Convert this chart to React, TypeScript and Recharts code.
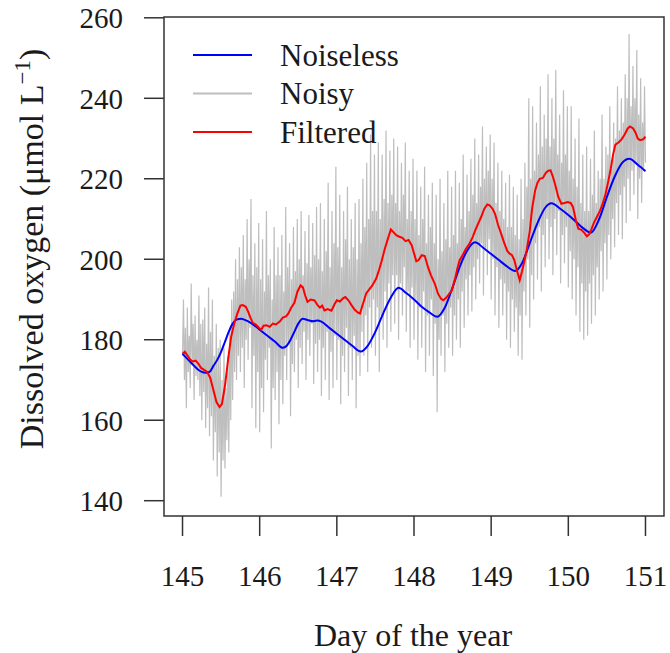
import { LineChart, Line, XAxis, YAxis, ReferenceArea, Legend, Label } from 'recharts';

const dayTicks = [145, 146, 147, 148, 149, 150, 151];
const oxygenTicks = [140, 160, 180, 200, 220, 240, 260];
const dayRange = [144.76, 151.24];
const oxygenRange = [136.2, 260.2];

// raw sensor readings, one every 0.0125 day starting at day 145
const noisyStart = 145;
const noisyStep = 0.0125;
const noisyValues = [
  176, 190, 170, 183, 163, 188, 172, 181, 168, 194, 174, 184, 165, 186, 171, 180, 170, 191, 166, 184,
  160, 185, 167, 188, 158, 179, 163, 193, 156, 182, 161, 190, 150, 176, 157, 184, 146, 178, 152, 180,
  141, 170, 150, 178, 148, 168, 155, 176, 152, 183, 160, 190, 165, 192, 172, 200, 170, 195, 176, 203,
  172, 198, 178, 206, 168, 195, 180, 210, 175, 200, 183, 215, 163, 196, 176, 204, 158, 198, 172, 209,
  157, 195, 168, 205, 162, 192, 175, 212, 170, 196, 178, 200, 153, 190, 168, 208, 165, 196, 172, 203,
  159, 196, 170, 206, 164, 192, 176, 213, 170, 198, 179, 204, 161, 195, 174, 208, 172, 197, 180, 210,
  168, 200, 178, 212, 174, 196, 182, 207, 170, 199, 180, 211, 176, 198, 184, 209, 169, 201, 179, 213,
  172, 200, 180, 214, 166, 197, 178, 210, 170, 202, 182, 219, 165, 198, 177, 212, 168, 204, 181, 223,
  170, 203, 180, 216, 164, 198, 176, 212, 172, 205, 183, 218, 166, 200, 178, 210, 170, 203, 181, 214,
  163, 200, 176, 215, 171, 204, 182, 220, 176, 208, 186, 224, 172, 210, 188, 231, 178, 212, 190, 226,
  176, 212, 188, 229, 172, 210, 186, 226, 180, 215, 192, 232, 178, 214, 194, 227, 182, 216, 196, 230,
  184, 214, 196, 228, 180, 212, 194, 224, 186, 216, 198, 229, 182, 210, 192, 222, 178, 212, 193, 225,
  180, 210, 190, 222, 175, 206, 188, 218, 178, 210, 192, 223, 172, 204, 186, 216, 176, 208, 190, 219,
  171, 204, 184, 216, 162, 200, 180, 220, 176, 202, 186, 214, 172, 205, 184, 222, 178, 203, 188, 218,
  176, 206, 186, 222, 180, 204, 190, 219, 178, 210, 192, 226, 183, 208, 195, 221, 186, 212, 196, 225,
  187, 216, 198, 230, 190, 214, 200, 226, 194, 218, 204, 233, 191, 220, 202, 228, 196, 222, 205, 231,
  190, 220, 200, 229, 186, 214, 198, 224, 183, 212, 195, 222, 186, 210, 194, 219, 180, 208, 192, 221,
  178, 208, 190, 218, 182, 206, 188, 216, 176, 205, 186, 220, 175, 210, 192, 224, 186, 218, 200, 240,
  183, 220, 196, 238, 190, 222, 204, 234, 195, 226, 208, 243, 192, 228, 206, 236, 198, 230, 210, 246,
  200, 228, 208, 240, 196, 230, 210, 247, 201, 226, 212, 236, 194, 224, 206, 242, 199, 226, 208, 238,
  193, 222, 202, 238, 190, 220, 200, 230, 186, 218, 198, 235, 182, 214, 194, 226, 180, 212, 192, 228,
  181, 212, 194, 225, 184, 216, 196, 232, 186, 214, 198, 222, 190, 220, 202, 236, 192, 220, 204, 228,
  195, 226, 206, 238, 200, 224, 210, 234, 203, 230, 214, 243, 206, 232, 216, 240, 205, 234, 218, 246,
  209, 240, 220, 256, 212, 238, 222, 248, 216, 240, 224, 252, 210, 236, 220, 245, 214, 234, 222, 243,
  224,
];

// [day, oxygen]
const noiseless: [number, number][] = [
  [145.0, 176.5], [145.05, 175.5], [145.1, 174.5], [145.15, 173.5], [145.2, 172.6],
  [145.25, 172.0], [145.3, 171.8], [145.35, 172.0], [145.4, 173.5], [145.45, 175.0],
  [145.5, 177.0], [145.55, 179.5], [145.6, 182.0], [145.65, 184.0], [145.7, 185.0],
  [145.76, 185.2], [145.8, 185.0], [145.9, 184.0], [146.0, 182.5], [146.1, 181.0],
  [146.2, 179.5], [146.3, 178.0], [146.35, 178.5], [146.4, 180.0], [146.45, 182.0],
  [146.5, 184.0], [146.56, 185.2], [146.62, 184.9], [146.7, 184.6], [146.75, 184.8],
  [146.8, 184.5], [146.9, 183.0], [147.0, 181.5], [147.1, 180.0], [147.2, 178.5],
  [147.31, 177.1], [147.4, 178.5], [147.5, 182.0], [147.6, 186.5], [147.7, 190.5],
  [147.8, 192.9], [147.9, 191.6], [148.0, 190.0], [148.1, 188.2], [148.2, 186.8],
  [148.3, 185.7], [148.4, 188.0], [148.5, 193.0], [148.6, 198.5], [148.7, 202.5],
  [148.79, 204.2], [148.9, 202.8], [149.0, 201.3], [149.1, 199.8], [149.2, 198.3],
  [149.31, 197.1], [149.4, 199.0], [149.5, 204.0], [149.6, 209.0], [149.7, 212.8],
  [149.78, 213.9], [149.9, 212.5], [150.0, 211.0], [150.1, 209.3], [150.2, 207.6],
  [150.29, 206.6], [150.4, 210.0], [150.5, 215.5], [150.6, 220.5], [150.7, 224.0],
  [150.79, 225.0], [150.9, 223.5], [151.0, 221.9],
];

// [day, oxygen]
const filtered: [number, number][] = [
  [145.0, 176.5], [145.03, 177.0], [145.06, 176.2], [145.09, 175.3], [145.13, 174.6],
  [145.17, 174.8], [145.2, 174.2], [145.24, 173.0], [145.28, 172.5], [145.32, 172.0],
  [145.36, 170.5], [145.4, 167.5], [145.44, 164.5], [145.48, 163.3], [145.51, 164.0],
  [145.55, 168.5], [145.59, 175.0], [145.63, 180.7], [145.67, 184.0], [145.71, 186.5],
  [145.75, 188.5], [145.78, 188.6], [145.82, 188.2], [145.85, 187.0], [145.88, 185.5],
  [145.91, 184.2], [145.95, 183.8], [145.99, 183.0], [146.02, 182.5], [146.05, 183.5],
  [146.09, 183.6], [146.13, 183.2], [146.17, 184.0], [146.21, 183.8], [146.26, 184.5],
  [146.3, 185.5], [146.34, 185.8], [146.37, 186.5], [146.41, 188.0], [146.45, 189.2],
  [146.49, 192.0], [146.53, 193.5], [146.56, 193.0], [146.59, 191.0], [146.62, 189.4],
  [146.66, 190.0], [146.71, 189.8], [146.75, 188.6], [146.78, 188.0], [146.81, 188.5],
  [146.84, 187.3], [146.88, 187.6], [146.93, 187.2], [146.97, 188.8], [147.0, 189.8],
  [147.04, 189.5], [147.08, 190.3], [147.11, 190.6], [147.15, 189.8], [147.19, 188.6],
  [147.23, 187.5], [147.27, 186.8], [147.3, 186.5], [147.34, 189.0], [147.38, 191.5],
  [147.42, 192.5], [147.46, 193.5], [147.51, 195.2], [147.55, 197.5], [147.58, 199.5],
  [147.62, 202.5], [147.66, 205.0], [147.7, 207.4], [147.73, 206.8], [147.77, 206.0],
  [147.81, 205.6], [147.85, 205.3], [147.89, 204.5], [147.93, 204.8], [147.97, 203.5],
  [148.0, 201.5], [148.03, 199.5], [148.06, 199.8], [148.1, 201.0], [148.14, 200.8],
  [148.18, 198.1], [148.22, 196.0], [148.27, 193.9], [148.31, 191.5], [148.35, 190.2],
  [148.38, 189.8], [148.42, 190.5], [148.46, 191.5], [148.49, 192.3], [148.53, 195.0],
  [148.56, 197.5], [148.59, 199.7], [148.63, 201.0], [148.67, 202.5], [148.72, 203.9],
  [148.76, 205.5], [148.8, 207.5], [148.83, 208.8], [148.87, 210.5], [148.91, 212.5],
  [148.95, 213.6], [148.98, 213.4], [149.02, 212.5], [149.05, 211.3], [149.09, 208.5],
  [149.13, 206.3], [149.17, 204.0], [149.21, 202.0], [149.24, 201.4], [149.27, 201.0],
  [149.3, 199.8], [149.33, 197.5], [149.37, 194.8], [149.4, 197.0], [149.43, 199.5],
  [149.46, 202.2], [149.5, 207.0], [149.53, 212.5], [149.57, 217.1], [149.6, 219.0],
  [149.63, 220.0], [149.67, 220.2], [149.71, 221.5], [149.74, 222.0], [149.77, 222.1],
  [149.8, 220.5], [149.83, 218.5], [149.87, 215.5], [149.91, 213.8], [149.95, 214.0],
  [149.99, 214.2], [150.03, 214.0], [150.06, 213.0], [150.1, 209.5], [150.13, 207.6],
  [150.17, 207.3], [150.21, 206.5], [150.24, 205.7], [150.27, 206.2], [150.3, 207.5],
  [150.33, 209.0], [150.37, 210.5], [150.41, 212.0], [150.44, 213.5], [150.48, 216.0],
  [150.52, 219.6], [150.55, 222.5], [150.58, 226.0], [150.61, 228.5], [150.65, 229.0],
  [150.69, 229.8], [150.73, 231.0], [150.77, 232.5], [150.8, 233.0], [150.84, 232.5],
  [150.87, 231.5], [150.9, 230.0], [150.93, 229.6], [150.97, 229.8], [151.0, 230.5],
];

const seriesNames = ['Noiseless', 'Noisy', 'Filtered'];
const seriesColors = ['#0000ff', '#bebebe', '#ff0000'];

const FONT = '"Liberation Serif", "Times New Roman", serif';
const INK = '#1a1a1a';

const noisyData = noisyValues.map((v, i) => ({ day: noisyStart + i * noisyStep, value: v }));
const noiselessData = noiseless.map(([day, value]) => ({ day, value }));
const filteredData = filtered.map(([day, value]) => ({ day, value }));

function DayTick({ x, y, payload }: any) {
  return (
    <text x={x} y={y} dy="0.71em" textAnchor="middle" fontFamily={FONT} fontSize={29} fill={INK}>
      {payload.value}
    </text>
  );
}

function OxygenTick({ x, y, payload }: any) {
  return (
    <text x={x} y={y} dy="0.355em" textAnchor="end" fontFamily={FONT} fontSize={29} fill={INK}>
      {payload.value}
    </text>
  );
}

function LegendBox() {
  return (
    <svg width={420} height={160} style={{ display: 'block' }}>
      {seriesNames.map((name, i) => {
        const y = 55 + i * 38.5;
        return (
          <g key={name}>
            <line x1={193} x2={252} y1={y} y2={y} stroke={seriesColors[i]} strokeWidth={2} />
            <text x={280} y={y + 10.5} fontFamily={FONT} fontSize={31} fill={INK}>{name}</text>
          </g>
        );
      })}
    </svg>
  );
}

function YTitle() {
  return (
    <text x={43} y={249} transform="rotate(-90 43 249)" textAnchor="middle" fontFamily={FONT} fontSize={34} fill={INK}>
      Dissolved oxygen (μmol L
      <tspan fontSize={23} dy={-13}>−1</tspan>
      <tspan dy={13}>)</tspan>
    </text>
  );
}

function XTitle() {
  return (
    <text x={413} y={646} textAnchor="middle" fontFamily={FONT} fontSize={32} fill={INK}>
      Day of the year
    </text>
  );
}

export default function App() {
  return (
    <div style={{ position: 'absolute', left: 0, top: 0, width: 670, height: 653, background: '#fff' }}>
      <LineChart width={670} height={653} margin={{ top: 17, right: 6, left: 0, bottom: 0 }} style={{ fontFamily: FONT }}>
        <XAxis
          type="number"
          dataKey="day"
          domain={dayRange}
          ticks={dayTicks}
          allowDataOverflow
          height={137}
          axisLine={false}
          tickSize={20}
          tickMargin={29}
          tickLine={{ stroke: '#333', strokeWidth: 1.5 }}
          tick={<DayTick />}
        >
          <Label content={<XTitle />} />
        </XAxis>
        <YAxis
          type="number"
          domain={oxygenRange}
          ticks={oxygenTicks}
          allowDataOverflow
          width={164}
          axisLine={false}
          tickSize={20}
          tickMargin={21}
          tickLine={{ stroke: '#333', strokeWidth: 1.5 }}
          tick={<OxygenTick />}
        >
          <Label content={<YTitle />} />
        </YAxis>
        <ReferenceArea
          x1={dayRange[0]}
          x2={dayRange[1]}
          y1={oxygenRange[0]}
          y2={oxygenRange[1]}
          fill="none"
          stroke="#333"
          strokeWidth={1.5}
          fillOpacity={0}
        />
        <Line data={noisyData} dataKey="value" type="linear" stroke={seriesColors[1]} strokeWidth={1.2} dot={false} isAnimationActive={false} />
        <Line data={noiselessData} dataKey="value" type="monotone" stroke={seriesColors[0]} strokeWidth={2} dot={false} isAnimationActive={false} />
        <Line data={filteredData} dataKey="value" type="linear" stroke={seriesColors[2]} strokeWidth={2} dot={false} isAnimationActive={false} />
        <Legend
          layout="vertical"
          align="center"
          verticalAlign="middle"
          content={<LegendBox />}
          wrapperStyle={{ position: 'absolute', left: 0, top: 0, width: 420, height: 160 }}
        />
      </LineChart>
    </div>
  );
}
